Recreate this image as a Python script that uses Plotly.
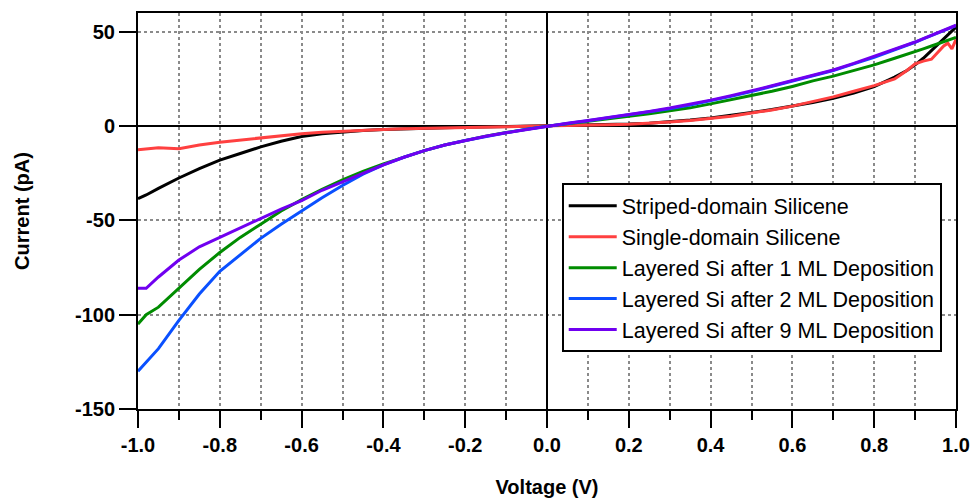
import plotly.graph_objects as go

voltage = [-1.00, -0.98, -0.95, -0.90, -0.85, -0.80, -0.75, -0.70, -0.65, -0.60,
           -0.55, -0.50, -0.45, -0.40, -0.35, -0.30, -0.25, -0.20, -0.15, -0.10,
           -0.05, 0.00, 0.05, 0.10, 0.15, 0.20, 0.25, 0.30, 0.35, 0.40,
           0.45, 0.50, 0.55, 0.60, 0.65, 0.70, 0.75, 0.80, 0.85, 0.88,
           0.90, 0.92, 0.94, 0.96, 0.97, 0.98, 0.99, 1.00]

striped = [-38.5, -36.5, -33.0, -27.5, -22.5, -18.0, -14.5, -11.0, -8.0, -5.5,
           -4.0, -3.0, -2.3, -1.8, -1.4, -1.0, -0.8, -0.6, -0.4, -0.3,
           -0.1, 0.0, 0.2, 0.4, 0.7, 1.1, 1.6, 2.3, 3.2, 4.3,
           5.6, 7.2, 8.8, 10.5, 12.5, 14.8, 17.5, 21.0, 26.0, 29.5,
           32.5, 36.0, 40.0, 44.0, 46.0, 48.5, 50.5, 52.5]

single = [-12.5, -12.2, -11.5, -12.0, -10.0, -8.5, -7.3, -6.0, -5.0, -4.0,
          -3.3, -2.7, -2.2, -1.8, -1.4, -1.1, -0.8, -0.6, -0.4, -0.3,
          -0.1, 0.0, 0.2, 0.4, 0.7, 1.0, 1.5, 2.2, 3.0, 4.0,
          5.3, 7.0, 8.6, 10.6, 13.0, 15.5, 18.5, 21.5, 25.0, 29.5,
          33.0, 34.5, 35.5, 40.0, 42.5, 44.0, 41.0, 46.0]

layered_1ml = [-105.0, -100.0, -96.0, -86.0, -76.0, -67.0, -59.0, -52.0, -45.0, -39.0,
               -33.5, -28.5, -24.0, -20.0, -16.5, -13.0, -10.0, -7.5, -5.3, -3.4,
               -1.6, 0.0, 1.3, 2.5, 3.8, 5.2, 6.6, 8.1, 9.7, 11.8,
               14.0, 16.0, 18.5, 21.0, 24.0, 26.5, 29.5, 32.5, 36.0, 38.0,
               39.5, 41.0, 42.5, 44.0, 44.8, 45.5, 46.2, 47.0]

layered_2ml = [-130.0, -125.0, -118.0, -103.0, -89.0, -77.0, -68.0, -59.5, -52.0, -45.0,
               -38.0, -31.5, -25.5, -20.5, -16.5, -13.0, -10.0, -7.6, -5.4, -3.5,
               -1.7, 0.0, 1.4, 2.8, 4.3, 5.9, 7.5, 9.2, 11.2, 13.4,
               15.8, 18.3, 21.0, 23.8, 26.7, 29.5, 33.0, 36.5, 40.5, 42.8,
               44.5, 46.3, 48.0, 49.8, 50.6, 51.5, 52.4, 53.3]

layered_9ml = [-86.0, -86.0, -80.0, -71.0, -64.0, -59.0, -54.0, -49.0, -44.0, -39.5,
               -34.0, -29.5, -25.0, -20.5, -16.5, -13.0, -10.0, -7.6, -5.4, -3.5,
               -1.7, 0.0, 1.5, 3.0, 4.5, 6.1, 7.8, 9.6, 11.6, 13.8,
               16.2, 18.7, 21.4, 24.2, 27.0, 29.8, 33.3, 37.0, 40.8, 43.0,
               44.6, 46.4, 48.2, 50.0, 50.9, 51.8, 52.6, 53.5]

series_names = ["Striped-domain Silicene", "Single-domain Silicene",
                "Layered Si after 1 ML Deposition", "Layered Si after 2 ML Deposition",
                "Layered Si after 9 ML Deposition"]
series_values = [striped, single, layered_1ml, layered_2ml, layered_9ml]
series_colors = ["#000000", "#ff4040", "#008c00", "#0a50ff", "#7000f0"]

x_tickvals = [-1.0, -0.8, -0.6, -0.4, -0.2, 0.0, 0.2, 0.4, 0.6, 0.8, 1.0]
x_ticktext = ["-1.0", "-0.8", "-0.6", "-0.4", "-0.2", "0.0", "0.2", "0.4", "0.6", "0.8", "1.0"]
x_minorvals = [-0.9, -0.7, -0.5, -0.3, -0.1, 0.1, 0.3, 0.5, 0.7, 0.9]
y_tickvals = [-150, -100, -50, 0, 50]
y_ticktext = ["-150", "-100", "-50", "0", "50"]

FONT = "Liberation Sans, Arial, sans-serif"

fig = go.Figure()
for name, vals, col in zip(series_names, series_values, series_colors):
    fig.add_trace(go.Scatter(x=voltage, y=vals, mode="lines", name=name,
                             line=dict(color=col, width=3)))

grid_col = "#8a8a8a"
fig.update_layout(
    width=972, height=499,
    margin=dict(l=138, r=16, t=13, b=90),
    plot_bgcolor="white", paper_bgcolor="white",
    font=dict(family=FONT, color="black"),
    showlegend=True,
    legend=dict(x=0.518, y=0.57, xanchor="left", yanchor="top",
                bordercolor="black", borderwidth=2, bgcolor="white",
                font=dict(family=FONT, size=21.5, color="black"),
                itemwidth=48, tracegroupgap=0),
    xaxis=dict(
        range=[-1.0, 1.0], automargin=False,
        tickmode="array", tickvals=x_tickvals, ticktext=x_ticktext,
        ticks="outside", ticklen=17, tickwidth=2, tickcolor="black",
        showline=True, linecolor="black", linewidth=2, mirror=True,
        showgrid=True, gridcolor=grid_col, gridwidth=2, griddash="dot",
        zeroline=True, zerolinecolor="black", zerolinewidth=2,
        tickfont=dict(family=FONT, size=20, weight="bold"),
        minor=dict(tickmode="array", tickvals=x_minorvals, ticks="outside",
                   ticklen=9, tickwidth=2, tickcolor="black",
                   showgrid=True, gridcolor=grid_col, gridwidth=2, griddash="dot"),
        title=dict(text="Voltage (V)", standoff=25,
                   font=dict(family=FONT, size=20, weight="bold")),
    ),
    yaxis=dict(
        range=[-150, 60], automargin=False,
        tickmode="array", tickvals=y_tickvals, ticktext=y_ticktext,
        ticks="outside", ticklen=17, tickwidth=2, tickcolor="black",
        showline=True, linecolor="black", linewidth=2, mirror=True,
        showgrid=True, gridcolor=grid_col, gridwidth=2, griddash="dot",
        zeroline=True, zerolinecolor="black", zerolinewidth=2,
        tickfont=dict(family=FONT, size=20, weight="bold"),
        title=dict(text="Current (pA)", standoff=40,
                   font=dict(family=FONT, size=20, weight="bold")),
    ),
)

fig.write_html("out.html")
